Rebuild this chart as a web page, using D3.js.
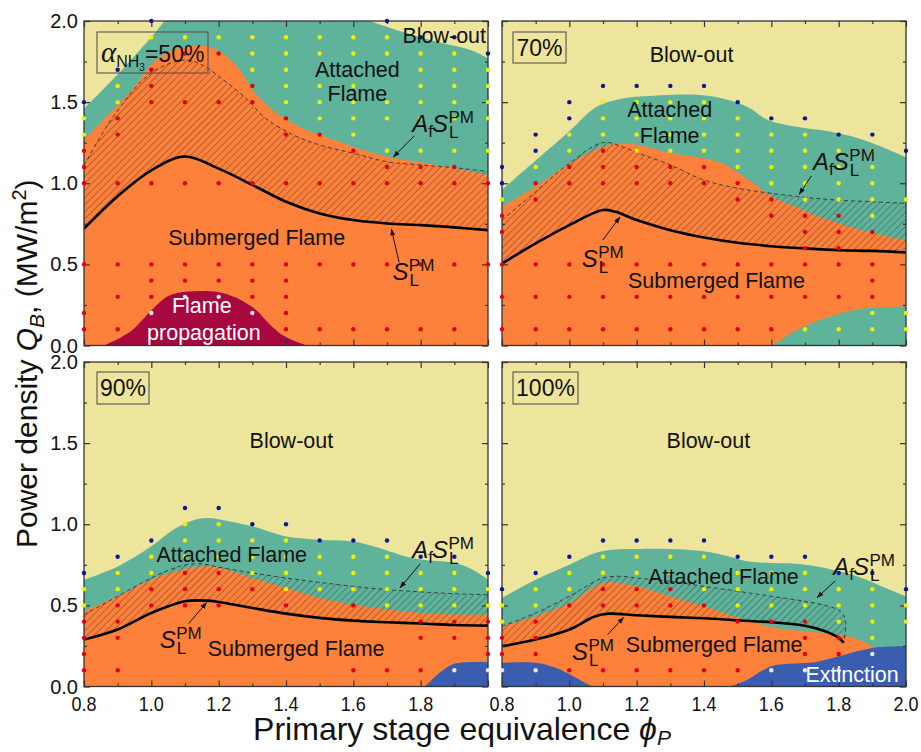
<!DOCTYPE html>
<html>
<head>
<meta charset="utf-8">
<script src="https://cdn.jsdelivr.net/npm/d3@7"></script>
<style>
  body { margin: 0; background: #fff; }
  text { font-family: "Liberation Sans", Arial, sans-serif; fill: #111; }
</style>
</head>
<body>
<div id="chart"></div>
<script>
// ---- data ----
// columns of the measurement grid (phi_P)
const phiGrid = [0.8, 0.9, 1.0, 1.1, 1.2, 1.3, 1.4, 1.5, 1.6, 1.7, 1.8, 1.9, 2.0];
const xMajor = [0.8, 1.0, 1.2, 1.4, 1.6, 1.8, 2.0];
const xMinor = [0.9, 1.1, 1.3, 1.5, 1.7, 1.9];
const yMajor = [0, 0.5, 1.0, 1.5, 2.0];
const yMinor = [0.25, 0.75, 1.25, 1.75];

// alpha_NH3 = 50 %
const attached50 = [[0.8, 1.46], [0.9, 1.67], [1.0, 1.9], [1.1, 2.12], [1.3, 2.2], [1.5, 2.12], [1.65, 2.0], [1.75, 1.93], [1.85, 1.87], [1.95, 1.82], [2.0, 1.77]];
const submerged50 = [[0.8, 1.27], [0.94, 1.57], [1.0, 1.73], [1.05, 1.81], [1.12, 1.845], [1.18, 1.835], [1.25, 1.73], [1.31, 1.55], [1.38, 1.42], [1.46, 1.33], [1.54, 1.27], [1.62, 1.21], [1.7, 1.165], [1.78, 1.135], [1.88, 1.10], [2.0, 1.05]];
const dashed50 = [[0.8, 1.11], [0.89, 1.42], [1.0, 1.68], [1.1, 1.76], [1.15, 1.73], [1.2, 1.66], [1.28, 1.525], [1.34, 1.40], [1.42, 1.30], [1.5, 1.236], [1.6, 1.185], [1.7, 1.133], [1.8, 1.113], [1.9, 1.096], [2.0, 1.072]];
const solid50 = [[0.8, 0.72], [0.9, 0.92], [1.0, 1.08], [1.1, 1.165], [1.2, 1.09], [1.3, 0.99], [1.4, 0.886], [1.5, 0.814], [1.6, 0.773], [1.7, 0.752], [1.8, 0.742], [1.9, 0.728], [2.0, 0.711]];
const flameProp50 = [[0.84, -0.02], [0.86, 0], [0.94, 0.09], [1.0, 0.216], [1.055, 0.309], [1.15, 0.336], [1.22, 0.319], [1.3, 0.237], [1.36, 0.113], [1.4, 0.052], [1.46, 0], [1.48, -0.02]];
const dots50 = [
  [2.0, "..b......b..."],
  [1.9, "..yyyyyyyybb."],
  [1.8, "...rryyyyyyyb"],
  [1.7, ".br..yy...yyy"],
  [1.6, ".yr..ryyy.yyy"],
  [1.5, "byrrrryyyyyyy"],
  [1.4, "yr....ryyyyyy"],
  [1.3, "yr....rry...."],
  [1.2, "r.......ryyyy"],
  [1.1, "r........rrr."],
  [1.0, "rrrrrrrrrrrrr"],
  [0.5, "rrrrrrrrrrrrr"],
  [0.4, "..rrrrr......"],
  [0.3, ".rrwwrr......"],
  [0.2, "r.w..wr......"],
  [0.1, "rr....rrrrrr."]
];

// 70 %
const attached70 = [[0.8, 0.96], [0.9, 1.14], [1.0, 1.32], [1.08, 1.47], [1.15, 1.52], [1.25, 1.54], [1.38, 1.545], [1.47, 1.515], [1.53, 1.47], [1.59, 1.39], [1.67, 1.35], [1.77, 1.32], [1.87, 1.27], [2.0, 1.16]];
const submerged70 = [[0.8, 0.855], [0.9, 0.98], [1.0, 1.12], [1.1, 1.226], [1.156, 1.247], [1.226, 1.226], [1.3, 1.185], [1.374, 1.164], [1.453, 1.123], [1.533, 1.02], [1.602, 0.917], [1.671, 0.855], [1.77, 0.773], [1.869, 0.711], [2.0, 0.649]];
const dashed70 = [[0.8, 0.773], [0.9, 0.948], [1.0, 1.123], [1.1, 1.251], [1.156, 1.226], [1.206, 1.185], [1.3, 1.113], [1.4, 1.02], [1.5, 0.969], [1.6, 0.938], [1.7, 0.913], [1.8, 0.896], [1.9, 0.886], [2.0, 0.876]];
const solid70 = [[0.8, 0.505], [0.9, 0.629], [1.0, 0.742], [1.1, 0.835], [1.137, 0.824], [1.2, 0.773], [1.3, 0.711], [1.4, 0.666], [1.5, 0.633], [1.6, 0.612], [1.7, 0.598], [1.8, 0.587], [1.9, 0.583], [2.0, 0.573]];
const lowTeal70 = [[1.55, -0.02], [1.6, 0], [1.67, 0.09], [1.77, 0.175], [1.87, 0.227], [2.0, 0.241]];
const dots70 = [
  [1.6, "...bbbb......"],
  [1.5, "..byyyyb....."],
  [1.4, "..byyyyybb..."],
  [1.3, ".byyyyyyyybb."],
  [1.2, ".byryyyyyyyyb"],
  [1.1, "byrrrrryyyyy."],
  [1.0, "brrrrrrryyyy."],
  [0.9, "yr.....rryyyy"],
  [0.8, "r.......rrry."],
  [0.7, "r........rrr."],
  [0.6, ".........rr.."],
  [0.5, "rrrrrrrrrrrr."],
  [0.4, "...........r."],
  [0.3, "rrrrrrrrrrrr."],
  [0.2, "...........yy"],
  [0.1, "rrrrrrrrryyyy"]
];

// 90 %
const attached90 = [[0.8, 0.658], [0.9, 0.74], [1.0, 0.864], [1.065, 0.966], [1.115, 1.017], [1.164, 1.038], [1.233, 1.017], [1.3, 0.987], [1.4, 0.925], [1.5, 0.905], [1.6, 0.894], [1.678, 0.853], [1.738, 0.812], [1.8, 0.782], [1.9, 0.761], [1.955, 0.72], [2.0, 0.658]];
const submerged90 = [[0.8, 0.464], [0.9, 0.556], [1.0, 0.658], [1.1, 0.724], [1.164, 0.741], [1.2, 0.732], [1.3, 0.669], [1.4, 0.607], [1.5, 0.546], [1.6, 0.505], [1.7, 0.474], [1.8, 0.453], [1.9, 0.443], [2.0, 0.443]];
const dashed90 = [[0.8, 0.443], [0.9, 0.556], [1.0, 0.669], [1.085, 0.741], [1.144, 0.757], [1.2, 0.736], [1.3, 0.70], [1.4, 0.669], [1.5, 0.642], [1.6, 0.617], [1.7, 0.597], [1.8, 0.583], [1.9, 0.572], [2.0, 0.566]];
const solid90 = [[0.8, 0.289], [0.9, 0.351], [1.0, 0.453], [1.1, 0.525], [1.164, 0.529], [1.2, 0.521], [1.3, 0.484], [1.4, 0.449], [1.5, 0.423], [1.6, 0.406], [1.7, 0.396], [1.8, 0.388], [1.9, 0.379], [2.0, 0.375]];
const extinction90 = [[1.78, -0.02], [1.81, 0], [1.856, 0.084], [1.9, 0.14], [2.0, 0.15]];
const dots90 = [
  [1.1, "...bb........"],
  [1.0, "...yybb......"],
  [0.9, "..byyyybbb..."],
  [0.8, ".byyyyyyyybb."],
  [0.7, "byyrryyyyyyyb"],
  [0.6, "yyrrrryyyyyyy"],
  [0.5, "yrrrr.r.ryyyy"],
  [0.4, "rr........rrr"],
  [0.3, "rr........rrr"],
  [0.2, "r...........r"],
  [0.1, "rr......rrrww"]
];

// 100 %
const attached100 = [[0.8, 0.546], [0.9, 0.658], [1.0, 0.751], [1.077, 0.823], [1.127, 0.843], [1.2, 0.847], [1.3, 0.847], [1.4, 0.833], [1.473, 0.802], [1.533, 0.771], [1.6, 0.761], [1.671, 0.757], [1.731, 0.741], [1.8, 0.71], [1.869, 0.669], [1.929, 0.617], [2.0, 0.556]];
const submerged100 = [[0.8, 0.371], [0.9, 0.433], [1.0, 0.515], [1.077, 0.617], [1.117, 0.642], [1.2, 0.617], [1.3, 0.556], [1.4, 0.494], [1.5, 0.423], [1.6, 0.367], [1.7, 0.341], [1.8, 0.32], [1.859, 0.289], [1.9, 0.248], [1.93, 0.22]];
const dashed100 = [[0.8, 0.371], [0.9, 0.453], [1.0, 0.556], [1.1, 0.669], [1.156, 0.679], [1.2, 0.669], [1.3, 0.648], [1.4, 0.617], [1.5, 0.587], [1.6, 0.556], [1.7, 0.525], [1.77, 0.494], [1.805, 0.464], [1.82, 0.41], [1.82, 0.34], [1.815, 0.27]];
const solid100 = [[0.8, 0.248], [0.9, 0.289], [1.0, 0.351], [1.077, 0.433], [1.117, 0.449], [1.2, 0.439], [1.3, 0.429], [1.4, 0.421], [1.5, 0.408], [1.6, 0.396], [1.7, 0.375], [1.76, 0.341], [1.8, 0.3], [1.815, 0.27]];
const extinction100 = [[0.8, 0.146], [0.9, 0.146], [0.96, 0.115], [1.01, 0.064], [1.06, 0.01], [1.1, -0.01], [1.45, -0.01], [1.49, 0.01], [1.53, 0.043], [1.6, 0.125], [1.67, 0.142], [1.73, 0.15], [1.8, 0.187], [1.9, 0.238], [2.0, 0.248]];
const dots100 = [
  [0.9, "...bbbb......"],
  [0.8, "..byyyybbb..."],
  [0.7, ".byyyy.yyybb."],
  [0.6, "byyrrryyyyyyb"],
  [0.5, "yyrrrrryyyyyy"],
  [0.4, "yr.....rrryyy"],
  [0.3, "rr.......rry."],
  [0.2, "rr.......rrw."],
  [0.1, "wwrrrrrrwww.."]
];

// ---- layout ----
const W = 921, H = 752;
const pw = 404, ph = 324.5;
const colX = [84, 502], rowY = [21, 362];

const C = {
  blow: "#ede59b", attached: "#60b39b", submerged: "#fd803b",
  prop: "#a6083f", ext: "#3b5daf", frame: "#333"
};
const dotColor = { r: "#e3000c", y: "#f2ee00", b: "#0a1896", w: "#e8e8e8" };

const svg = d3.select("#chart").append("svg")
  .attr("width", W).attr("height", H);

const defs = svg.append("defs");
const pat = defs.append("pattern")
  .attr("id", "hatch").attr("patternUnits", "userSpaceOnUse")
  .attr("width", 5).attr("height", 5)
  .attr("patternTransform", "rotate(45)");
pat.append("line").attr("x1", 0).attr("y1", 0).attr("x2", 0).attr("y2", 5)
  .attr("stroke", "#222").attr("stroke-width", 0.7);

defs.append("marker").attr("id", "arrow")
  .attr("viewBox", "0 0 10 10").attr("refX", 9).attr("refY", 5)
  .attr("markerWidth", 7).attr("markerHeight", 7).attr("orient", "auto")
  .append("path").attr("d", "M0,1.5 L10,5 L0,8.5 Z").attr("fill", "#111");

const x = d3.scaleLinear().domain([0.8, 2.0]).range([0, pw]);
const y = d3.scaleLinear().domain([0, 2.0]).range([ph, 0]);
const curve = d3.curveCatmullRom.alpha(0.5);

const area = d3.area().x(d => x(d[0])).y0(ph + 10).y1(d => y(d[1])).curve(curve);
const line = d3.line().x(d => x(d[0])).y(d => y(d[1])).curve(curve);

const panels = [
  {
    col: 0, row: 0, id: "p50",
    attached: attached50, submerged: submerged50, dashed: dashed50, solid: solid50,
    low: [{ data: flameProp50, fill: C.prop }], dots: dots50,
    xLabels: false,
    tag: { box: [13, 11, 111, 41], alpha: true, text: "=50%" },
    labels: [
      { t: "Blow-out", p: 1.87, q: 1.867 },
      { t: "Attached", p: 1.612, q: 1.657 },
      { t: "Flame", p: 1.612, q: 1.508 },
      { t: "Submerged Flame", p: 1.313, q: 0.618 },
      { t: "Flame", p: 1.15, q: 0.198, white: true },
      { t: "propagation", p: 1.156, q: 0.031, white: true }
    ],
    af: { p: 1.775, q: 1.317, from: [1.781, 1.292], to: [1.719, 1.162] },
    sl: { p: 1.716, q: 0.402, from: [1.736, 0.513], to: [1.713, 0.717] }
  },
  {
    col: 1, row: 0, id: "p70",
    attached: attached70, submerged: submerged70, dashed: dashed70, solid: solid70,
    low: [{ data: lowTeal70, fill: C.attached }], dots: dots70,
    xLabels: false,
    tag: { box: [11, 11, 53, 31], text: "70%" },
    labels: [
      { t: "Blow-out", p: 1.363, q: 1.75 },
      { t: "Attached", p: 1.298, q: 1.41 },
      { t: "Flame", p: 1.298, q: 1.25 },
      { t: "Submerged Flame", p: 1.437, q: 0.352 }
    ],
    af: { p: 1.724, q: 1.082, from: [1.719, 1.045], to: [1.683, 0.933] },
    sl: { p: 1.037, q: 0.482, from: [1.099, 0.649], to: [1.15, 0.791] }
  },
  {
    col: 0, row: 1, id: "p90",
    attached: attached90, submerged: submerged90, dashed: dashed90, solid: solid90,
    low: [{ data: extinction90, fill: C.ext }], dots: dots90,
    xLabels: true, xTickVals: [0.8, 1.0, 1.2, 1.4, 1.6, 1.8],
    tag: { box: [13, 10, 52, 32], text: "90%" },
    labels: [
      { t: "Blow-out", p: 1.416, q: 1.47 },
      { t: "Attached Flame", p: 1.239, q: 0.765 },
      { t: "Submerged Flame", p: 1.43, q: 0.185 }
    ],
    af: { p: 1.775, q: 0.794, from: [1.799, 0.757], to: [1.739, 0.609] },
    sl: { p: 1.025, q: 0.24, from: [1.111, 0.388], to: [1.164, 0.517] }
  },
  {
    col: 1, row: 1, id: "p100",
    attached: attached100, submerged: submerged100, dashed: dashed100, solid: solid100,
    low: [{ data: extinction100, fill: C.ext }], dots: dots100,
    xLabels: true, xTickVals: xMajor,
    tag: { box: [11, 10, 65, 32], text: "100%" },
    labels: [
      { t: "Blow-out", p: 1.413, q: 1.47 },
      { t: "Attached Flame", p: 1.458, q: 0.634 },
      { t: "Submerged Flame", p: 1.43, q: 0.215 },
      { t: "Extinction", p: 1.84, q: 0.025, white: true }
    ],
    af: { p: 1.784, q: 0.689, from: [1.79, 0.652], to: [1.736, 0.548] },
    sl: { p: 1.008, q: 0.166, from: [1.114, 0.32], to: [1.161, 0.425] }
  }
];

// S_L^PM and A_f S_L^PM labels
function symbol(g, px, py, withA) {
  const t = g.append("text").attr("x", px).attr("y", py).attr("font-size", 24);
  if (withA) {
    t.append("tspan").attr("font-style", "italic").text("A");
    t.append("tspan").attr("font-size", 17).attr("dy", 5).text("f");
    t.append("tspan").attr("font-style", "italic").attr("dx", -1).attr("dy", -5).text("S");
  } else {
    t.append("tspan").attr("font-style", "italic").text("S");
  }
  t.append("tspan").attr("font-size", 17).attr("dx", 1).attr("dy", 6).text("L");
  t.append("tspan").attr("font-size", 17).attr("dx", -10).attr("dy", -15).text("PM");
}

// axis factories (inward ticks on every side)
const axisMakers = [
  [() => d3.axisBottom(x), `translate(0,${ph})`, xMajor, xMinor],
  [() => d3.axisTop(x), "translate(0,0)", xMajor, xMinor],
  [() => d3.axisLeft(y), "translate(0,0)", yMajor, yMinor],
  [() => d3.axisRight(y), `translate(${pw},0)`, yMajor, yMinor]
];

panels.forEach(pn => {
  const g = svg.append("g")
    .attr("transform", `translate(${colX[pn.col]},${rowY[pn.row]})`);

  defs.append("clipPath").attr("id", "clip-" + pn.id)
    .append("rect").attr("width", pw).attr("height", ph);

  const body = g.append("g").attr("clip-path", `url(#clip-${pn.id})`);
  body.append("rect").attr("width", pw).attr("height", ph).attr("fill", C.blow);
  body.append("path").datum(pn.attached).attr("d", area).attr("fill", C.attached);
  body.append("path").datum(pn.submerged).attr("d", area).attr("fill", C.submerged);
  pn.low.forEach(l => {
    body.append("path").datum(l.data).attr("d", area).attr("fill", l.fill);
  });

  // hatched band between S_L^PM and A_f S_L^PM
  const hatchD = line(pn.dashed) + "L" + line(pn.solid.slice().reverse()).slice(1) + "Z";
  body.append("path").attr("d", hatchD).attr("fill", "url(#hatch)");
  body.append("path").datum(pn.dashed).attr("d", line)
    .attr("fill", "none").attr("stroke", "#333").attr("stroke-width", 0.9)
    .attr("stroke-dasharray", "4,3");
  body.append("path").datum(pn.solid).attr("d", line)
    .attr("fill", "none").attr("stroke", "#000").attr("stroke-width", 2.6);

  // frame
  g.append("rect").attr("width", pw).attr("height", ph)
    .attr("fill", "none").attr("stroke", C.frame).attr("stroke-width", 1.3);

  axisMakers.forEach(([make, tr, maj, min]) => {
    g.append("g").attr("transform", tr)
      .call(make().tickValues(maj).tickSize(-6).tickFormat(""));
    g.append("g").attr("transform", tr)
      .call(make().tickValues(min).tickSize(-3).tickFormat(""));
  });
  g.selectAll(".domain").remove();
  g.selectAll(".tick line").attr("stroke", C.frame).attr("stroke-width", 1.2);

  // tick labels
  if (pn.col === 0) {
    g.append("g").selectAll("text").data(yMajor).join("text")
      .attr("x", -6).attr("y", d => y(d)).attr("dy", "0.35em")
      .attr("text-anchor", "end").attr("font-size", 20)
      .text(d => d.toFixed(1));
  }
  if (pn.xLabels) {
    g.append("g").selectAll("text").data(pn.xTickVals).join("text")
      .attr("x", d => x(d)).attr("y", ph + 24)
      .attr("text-anchor", "middle").attr("font-size", 20)
      .attr("textLength", 25).attr("lengthAdjust", "spacingAndGlyphs")
      .text(d => d.toFixed(1));
  }

  // operating points
  const pts = [];
  pn.dots.forEach(([q, codes]) => {
    codes.split("").forEach((c, i) => {
      if (c !== ".") pts.push({ p: phiGrid[i], q: q, c: c });
    });
  });
  g.append("g").selectAll("circle").data(pts).join("circle")
    .attr("cx", d => x(d.p)).attr("cy", d => y(d.q)).attr("r", 2.2)
    .attr("fill", d => dotColor[d.c]);

  // region labels
  g.append("g").selectAll("text").data(pn.labels).join("text")
    .attr("x", d => x(d.p)).attr("y", d => y(d.q))
    .attr("text-anchor", "middle").attr("font-size", 21.5)
    .style("fill", d => d.white ? "#fff" : "#111")
    .text(d => d.t);

  symbol(g, x(pn.af.p), y(pn.af.q), true);
  symbol(g, x(pn.sl.p), y(pn.sl.q), false);
  [pn.af, pn.sl].forEach(a => {
    g.append("line")
      .attr("x1", x(a.from[0])).attr("y1", y(a.from[1]))
      .attr("x2", x(a.to[0])).attr("y2", y(a.to[1]))
      .attr("stroke", "#111").attr("stroke-width", 1)
      .attr("marker-end", "url(#arrow)");
  });

  // composition tag
  const b = pn.tag.box;
  g.append("rect").attr("x", b[0]).attr("y", b[1]).attr("width", b[2]).attr("height", b[3])
    .attr("fill", "none").attr("stroke", "#555").attr("stroke-width", 1.1);
  if (pn.tag.alpha) {
    const t = g.append("text").attr("x", b[0] + 4).attr("y", b[1] + 30).attr("font-size", 23);
    t.append("tspan").attr("font-family", "Liberation Serif").attr("font-style", "italic")
      .attr("font-size", 29).text("α");
    t.append("tspan").attr("font-size", 16).attr("dy", 5).text("NH");
    t.append("tspan").attr("font-size", 10).attr("dy", 4).text("3");
    t.append("tspan").attr("dy", -9).text(pn.tag.text);
  } else {
    g.append("text").attr("x", b[0] + b[2] / 2).attr("y", b[1] + 24)
      .attr("text-anchor", "middle").attr("font-size", 23).text(pn.tag.text);
  }
});

// axis titles
const yt = svg.append("text")
  .attr("transform", `translate(37,${(rowY[0] + rowY[1] + ph) / 2 + 10}) rotate(-90)`)
  .attr("text-anchor", "middle").attr("font-size", 30);
yt.append("tspan").text("Power density ");
yt.append("tspan").attr("font-style", "italic").text("Q");
yt.append("tspan").attr("font-style", "italic").attr("font-size", 21).attr("dy", 7).text("B");
yt.append("tspan").attr("dy", -7).text(", (MW/m");
yt.append("tspan").attr("font-size", 20).attr("dy", -11).text("2");
yt.append("tspan").attr("dy", 11).text(")");

const xt = svg.append("text")
  .attr("x", 462).attr("y", 740)
  .attr("text-anchor", "middle").attr("font-size", 32);
xt.append("tspan").text("Primary stage equivalence ");
xt.append("tspan").attr("font-style", "italic").text("ϕ");
xt.append("tspan").attr("font-style", "italic").attr("font-size", 21).attr("dy", 5).text("P");
</script>
</body>
</html>
